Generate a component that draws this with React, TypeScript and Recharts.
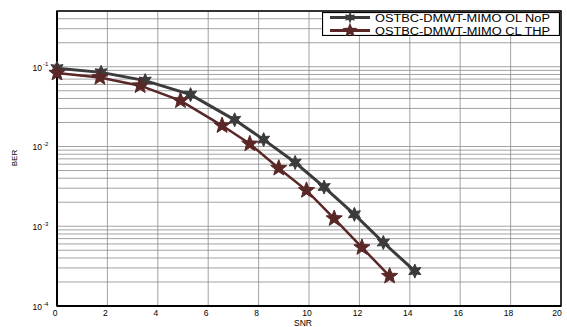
import { LineChart, Line, XAxis, YAxis, CartesianGrid, ReferenceArea } from 'recharts';

const snrNoP = [0, 1.75, 3.5, 5.3, 7.05, 8.2, 9.45, 10.6, 11.8, 12.95, 14.2];
const berNoP = [0.096, 0.085, 0.067, 0.0447, 0.0216, 0.0122, 0.0063, 0.0031, 0.00141, 0.000625, 0.000274];
const snrThp = [0, 1.7, 3.3, 4.9, 6.55, 7.65, 8.8, 9.9, 11, 12.1, 13.2];
const berThp = [0.0834, 0.0735, 0.0579, 0.0376, 0.0183, 0.0108, 0.00535, 0.00282, 0.00125, 0.000542, 0.000237];

const xTicks = [0, 2, 4, 6, 8, 10, 12, 14, 16, 18, 20];
const yTicks = [
  1e-4, 2e-4, 3e-4, 4e-4, 5e-4, 6e-4, 7e-4, 8e-4, 9e-4,
  1e-3, 2e-3, 3e-3, 4e-3, 5e-3, 6e-3, 7e-3, 8e-3, 9e-3,
  1e-2, 2e-2, 3e-2, 4e-2, 5e-2, 6e-2, 7e-2, 8e-2, 9e-2,
  1e-1, 2e-1, 3e-1, 4e-1, 5e-1,
];
const decadeLabels: Record<string, string> = { '0.0001': '-4', '0.001': '-3', '0.01': '-2', '0.1': '-1' };

const seriesNames = ['OSTBC-DMWT-MIMO OL NoP', 'OSTBC-DMWT-MIMO CL THP'];
const colors = ['#3b3b3b', '#5a2727'];

const nopData = snrNoP.map((s, i) => ({ snr: s, ber: berNoP[i] }));
const thpData = snrThp.map((s, i) => ({ snr: s, ber: berThp[i] }));

const FONT = 'Liberation Sans, Arial, sans-serif';

function starPath(cx: number, cy: number, n: number, ro: number, ri: number) {
  let d = '';
  for (let i = 0; i < n * 2; i++) {
    const r = i % 2 === 0 ? ro : ri;
    const a = -Math.PI / 2 + (i * Math.PI) / n;
    d += (i === 0 ? 'M' : 'L') + (cx + r * Math.cos(a)).toFixed(2) + ',' + (cy + r * Math.sin(a)).toFixed(2);
  }
  return d + 'Z';
}

const hexDot = (p: any) => (
  <path key={'h' + p.index} d={starPath(p.cx, p.cy, 6, 7, 3.5)} fill={colors[0]} stroke={colors[0]} />
);
const pentDot = (p: any) => (
  <path key={'p' + p.index} d={starPath(p.cx, p.cy, 5, 8.5, 3.6)} fill={colors[1]} stroke={colors[1]} />
);

const YTick = (p: any) => {
  const v = String(p.payload.value);
  const exp = decadeLabels[v];
  if (!exp) return <g />;
  return (
    <g>
      <text x={42} y={p.y + 4} textAnchor="end" fontSize={8.5} fontFamily={FONT} fill="#000">10</text>
      <text x={43} y={p.y - 0.5} textAnchor="start" fontSize={6} fontFamily={FONT} fill="#000">{exp}</text>
    </g>
  );
};

const XTick = (p: any) => (
  <text x={p.x - 2} y={316} textAnchor="middle" fontSize={8.5} fontFamily={FONT} fill="#000">
    {p.payload.value}
  </text>
);

const XLabel = () => (
  <text x={303} y={326} textAnchor="middle" fontSize={8.5} fontFamily={FONT} fill="#000">SNR</text>
);

const YLabel = () => (
  <text x={16.5} y={158} transform="rotate(-90 16.5 158)" textAnchor="middle" fontSize={8} fontFamily={FONT} fill="#000">BER</text>
);

const LegendBox = () => (
  <svg width={238} height={24} style={{ position: 'absolute', left: 322, top: 12 }}>
    <rect x={0.5} y={0.5} width={237} height={23} fill="#fff" stroke="#000" strokeWidth={1.2} />
    {[0, 1].map((i) => {
      const y = 5.5 + i * 13;
      return (
        <g key={i}>
          <line x1={8} x2={48} y1={y} y2={y} stroke={colors[i]} strokeWidth={3} />
          <path d={i === 0 ? starPath(28, y, 6, 6, 3) : starPath(28, y, 5, 8, 3.4)} fill={colors[i]} />
          <text x={53} y={y + 4} fontSize={10} fontFamily={FONT} textLength={175} lengthAdjust="spacingAndGlyphs" fill="#000">
            {seriesNames[i]}
          </text>
        </g>
      );
    })}
  </svg>
);

export default function App() {
  return (
    <div style={{ position: 'absolute', left: 0, top: 0, width: 567, height: 327, background: '#fff' }}>
      <LineChart width={567} height={327} margin={{ top: 11, right: 6, bottom: 0, left: 0 }}>
        <CartesianGrid stroke="#8c8c8c" strokeWidth={0.8} />
        <XAxis
          dataKey="snr"
          type="number"
          domain={[0, 20]}
          ticks={xTicks}
          allowDuplicatedCategory={false}
          height={21}
          tick={XTick}
          tickLine={false}
          axisLine={{ stroke: '#000', strokeWidth: 2 }}
          label={XLabel}
        />
        <YAxis
          dataKey="ber"
          scale="log"
          domain={[1e-4, 0.5]}
          allowDataOverflow
          ticks={yTicks}
          interval={0}
          width={57}
          tick={YTick}
          tickLine={false}
          axisLine={{ stroke: '#000', strokeWidth: 2 }}
          label={YLabel}
        />
        <ReferenceArea x1={0} x2={20} y1={1e-4} y2={0.5} fill="none" stroke="#000" strokeWidth={1.5} />
        <Line data={nopData} dataKey="ber" name={seriesNames[0]} stroke={colors[0]} strokeWidth={3} dot={hexDot} isAnimationActive={false} />
        <Line data={thpData} dataKey="ber" name={seriesNames[1]} stroke={colors[1]} strokeWidth={2.5} dot={pentDot} isAnimationActive={false} />
      </LineChart>
      <LegendBox />
    </div>
  );
}
